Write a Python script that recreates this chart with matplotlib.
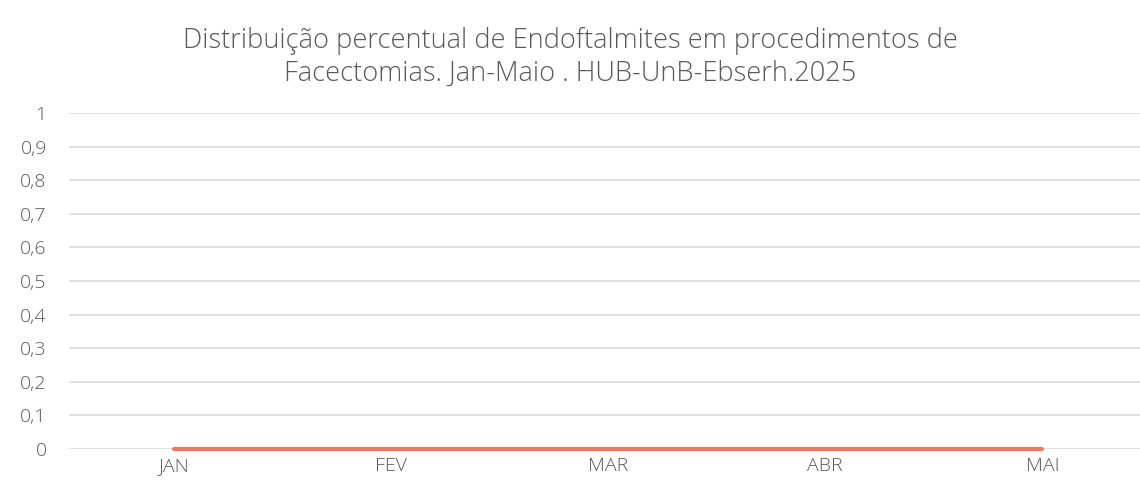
import matplotlib.pyplot as plt
import matplotlib

matplotlib.rcParams['font.family'] = ['Open Sans', 'DejaVu Sans']

meses = ["JAN", "FEV", "MAR", "ABR", "MAI"]
endoftalmites = [0, 0, 0, 0, 0]
y_ticks = [0, 0.1, 0.2, 0.3, 0.4, 0.5, 0.6, 0.7, 0.8, 0.9, 1]
y_labels = ["0", "0,1", "0,2", "0,3", "0,4", "0,5", "0,6", "0,7", "0,8", "0,9", "1"]

cinza = "#595959"

fig = plt.figure(figsize=(11.4, 4.92), dpi=100)
ax = fig.add_axes([69 / 1140, 43 / 492, 1071 / 1140, 336 / 492])

x = list(range(len(meses)))
ax.plot(x, endoftalmites, color="#F07860", lw=3, solid_capstyle="round", clip_on=False, zorder=3)

ax.set_xlim(-0.484, 4.45)
ax.set_ylim(0, 1)
ax.set_yticks(y_ticks)
ax.set_yticklabels(y_labels)
ax.set_xticks(x)
ax.set_xticklabels(meses)
ax.tick_params(axis="both", length=0, labelsize=14, labelcolor=cinza)
ax.tick_params(axis="y", pad=16)
ax.tick_params(axis="x", pad=6)
for lab in ax.get_xticklabels() + ax.get_yticklabels():
    lab.set_fontweight("light")

ax.grid(axis="y", color="#d9d9d9", lw=1.1)
ax.set_axisbelow(True)
for s in ax.spines.values():
    s.set_visible(False)

fig.text(0.5, 0.883, "Distribuição percentual de Endoftalmites em procedimentos de\nFacectomias. Jan-Maio . HUB-UnB-Ebserh.2025",
         ha="center", va="center", fontsize=19.6, color=cinza, fontweight="light", linespacing=1.25)

fig.savefig("out.png", dpi=100)
